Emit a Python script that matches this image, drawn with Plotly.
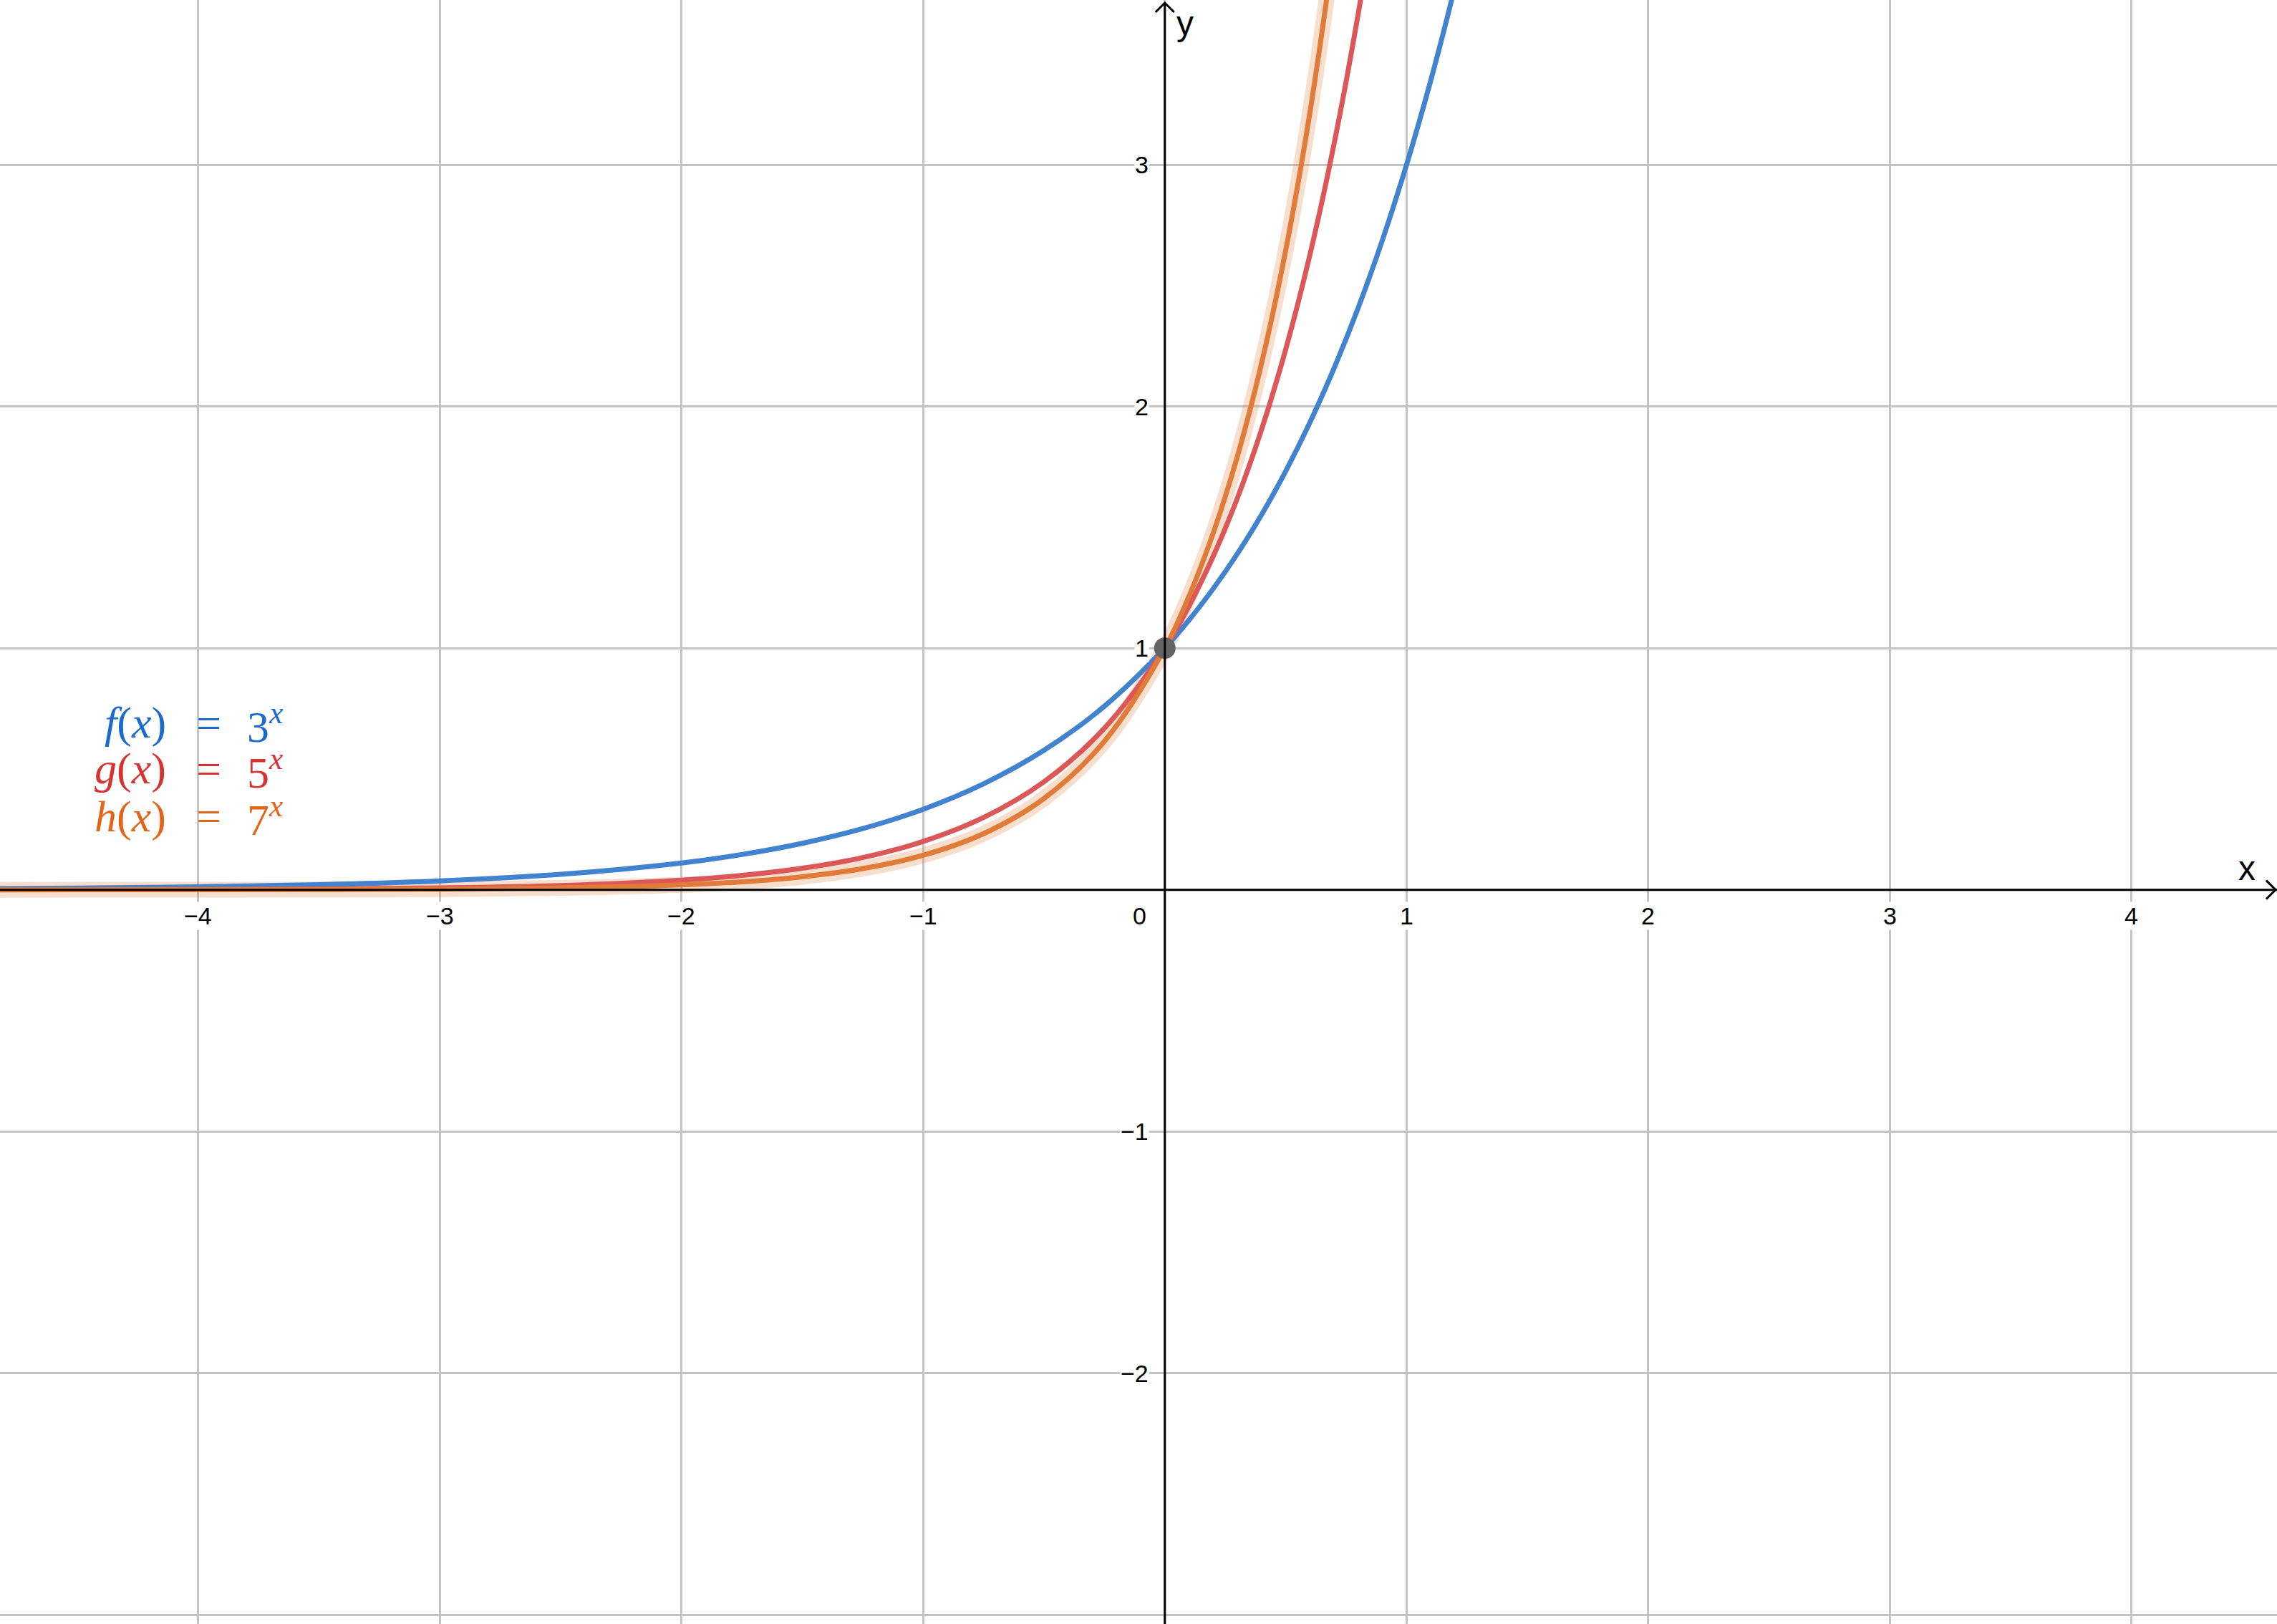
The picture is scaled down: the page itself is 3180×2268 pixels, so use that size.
import plotly.graph_objects as go

# ---- data ----
x_neg = [-5.0, -4.5, -4.0, -3.5, -3.0, -2.5, -2.0, -1.75, -1.5, -1.25, -1.0, -0.75, -0.5, -0.25, 0.0]
x_pos = [0.1, 0.2, 0.3, 0.4, 0.5, 0.6, 0.7, 0.8, 0.9, 1.0, 1.1, 1.2, 1.3]

f_neg = [0.0041, 0.0071, 0.0123, 0.0214, 0.0370, 0.0642, 0.1111, 0.1462, 0.1925, 0.2533, 0.3333, 0.4387, 0.5774, 0.7598, 1.0]
f_pos = [1.1161, 1.2457, 1.3904, 1.5518, 1.7321, 1.9332, 2.1577, 2.4082, 2.6879, 3.0, 3.348, 3.737, 4.171]

g_neg = [0.0003, 0.0007, 0.0016, 0.0036, 0.0080, 0.0179, 0.0400, 0.0598, 0.0894, 0.1337, 0.2000, 0.2991, 0.4472, 0.6687, 1.0]
g_pos = [1.1746, 1.3797, 1.6207, 1.9037, 2.2361, 2.6265, 3.0852, 3.6239, 4.2567]

h_neg = [0.0001, 0.0002, 0.0004, 0.0011, 0.0029, 0.0077, 0.0204, 0.0332, 0.0540, 0.0878, 0.1429, 0.2324, 0.3780, 0.6148, 1.0]
h_pos = [1.2148, 1.4758, 1.7927, 2.1779, 2.6458, 3.2142, 3.9045]

point_x = [0.0]
point_y = [1.0]

x_ticks = [-4, -3, -2, -1, 1, 2, 3, 4]
y_ticks = [-2, -1, 1, 2, 3]
tick_text = {-4: "\u22124", -3: "\u22123", -2: "\u22122", -1: "\u22121", 1: "1", 2: "2", 3: "3", 4: "4"}

legend_left = ["<i>f</i>(<i>x</i>)", "<i>g</i>(<i>x</i>)", "<i>h</i>(<i>x</i>)"]
legend_right = ["3<sup><i>x</i></sup>", "5<sup><i>x</i></sup>", "7<sup><i>x</i></sup>"]
legend_colors = ["#1a6bcc", "#d63333", "#e0661a"]

curve_blue = "#4283d0"
curve_red = "#dc5757"
curve_orange = "#e07b39"

# ---- figure ----
fig = go.Figure()

hx = x_neg + x_pos[:len(h_pos)]
fig.add_trace(go.Scatter(x=hx, y=h_neg + h_pos, mode="lines",
                         line=dict(color="rgba(224,123,57,0.25)", width=22, shape="spline"),
                         hoverinfo="skip"))
fig.add_trace(go.Scatter(x=x_neg + x_pos[:len(f_pos)], y=f_neg + f_pos, mode="lines",
                         line=dict(color=curve_blue, width=7, shape="spline")))
fig.add_trace(go.Scatter(x=x_neg + x_pos[:len(g_pos)], y=g_neg + g_pos, mode="lines",
                         line=dict(color=curve_red, width=7, shape="spline")))
fig.add_trace(go.Scatter(x=hx, y=h_neg + h_pos, mode="lines",
                         line=dict(color=curve_orange, width=7, shape="spline")))
fig.add_trace(go.Scatter(x=point_x, y=point_y, mode="markers",
                         marker=dict(size=30, color="#646464", line=dict(width=0))))

shapes = []
# axes
shapes.append(dict(type="line", xref="paper", yref="y", x0=0, x1=1, y0=0, y1=0,
                   line=dict(color="black", width=3), layer="above"))
shapes.append(dict(type="line", xref="x", yref="paper", x0=0, x1=0, y0=0, y1=0.998,
                   line=dict(color="black", width=3), layer="above"))
# arrow heads
shapes.append(dict(type="path", xref="paper", yref="y", xsizemode="pixel", ysizemode="pixel",
                   xanchor=1, yanchor=0, path="M -15,-13 L -2,0 L -15,13",
                   line=dict(color="black", width=3), layer="above"))
shapes.append(dict(type="path", xref="x", yref="paper", xsizemode="pixel", ysizemode="pixel",
                   xanchor=0, yanchor=1, path="M -13,-17 L 0,-4 L 13,-17",
                   line=dict(color="black", width=3), layer="above"))

annotations = []
tick_font = dict(family="Liberation Sans, Arial, sans-serif", size=34, color="black")
for t in x_ticks:
    annotations.append(dict(x=t, y=0, xref="x", yref="y", text=tick_text[t], showarrow=False,
                            xanchor="center", yanchor="middle", yshift=-36, font=tick_font,
                            bgcolor="white", borderpad=0))
for t in y_ticks:
    annotations.append(dict(x=0, y=t, xref="x", yref="y", text=tick_text[t], showarrow=False,
                            xanchor="right", yanchor="middle", xshift=-22, font=tick_font,
                            bgcolor="white", borderpad=0))
annotations.append(dict(x=0, y=0, xref="x", yref="y", text="0", showarrow=False,
                        xanchor="right", yanchor="middle", xshift=-24, yshift=-36, font=tick_font))

label_font = dict(family="Liberation Sans, Arial, sans-serif", size=48, color="black")
annotations.append(dict(x=4.478, y=0, xref="x", yref="y", text="x", showarrow=False,
                        xanchor="center", yanchor="middle", yshift=30, font=label_font))
annotations.append(dict(x=0, y=0.9855, xref="x", yref="paper", text="y", showarrow=False,
                        xanchor="left", yanchor="middle", xshift=14, font=label_font))

row_y = [1 - 1010 / 2268, 1 - 1074 / 2268, 1 - 1140 / 2268]
for i in range(3):
    lf = dict(family="Liberation Serif, Times New Roman, serif", size=62, color=legend_colors[i])
    annotations.append(dict(x=234 / 3180, y=row_y[i], xref="paper", yref="paper", text=legend_left[i],
                            showarrow=False, xanchor="right", yanchor="middle", font=lf))
    annotations.append(dict(x=291 / 3180, y=row_y[i], xref="paper", yref="paper", text="=",
                            showarrow=False, xanchor="center", yanchor="middle", font=lf))
    annotations.append(dict(x=343 / 3180, y=row_y[i], xref="paper", yref="paper", text=legend_right[i],
                            showarrow=False, xanchor="left", yanchor="middle", font=lf))

fig.update_layout(
    width=3180, height=2268,
    margin=dict(l=0, r=0, t=0, b=0, pad=0),
    paper_bgcolor="white", plot_bgcolor="white",
    showlegend=False,
    shapes=shapes,
    annotations=annotations,
    xaxis=dict(range=[-4.820, 4.602], tick0=0, dtick=1, showgrid=True, gridcolor="#c4c4c4",
               gridwidth=3, zeroline=False, showticklabels=False, ticks="", showline=False, fixedrange=True),
    yaxis=dict(range=[-3.038, 3.682], tick0=0, dtick=1, showgrid=True, gridcolor="#c4c4c4",
               gridwidth=3, zeroline=False, showticklabels=False, ticks="", showline=False, fixedrange=True),
)

fig.write_html("out.html", config={"displayModeBar": False},
               post_script="document.body.style.margin='0';document.body.style.overflow='hidden';")
